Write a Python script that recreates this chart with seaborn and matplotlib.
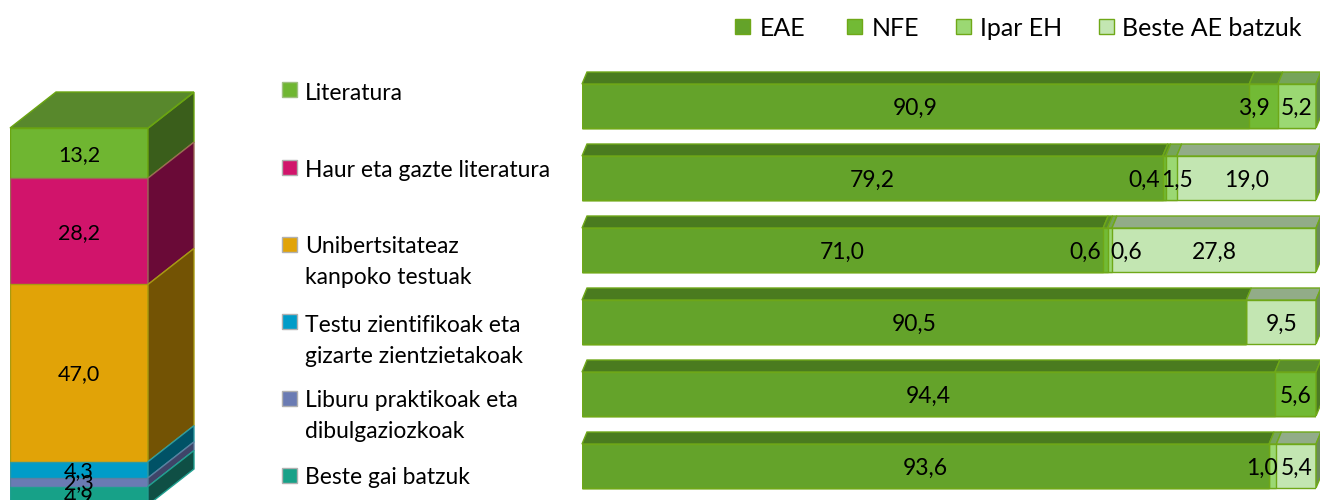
import matplotlib
matplotlib.use("Agg")
import matplotlib.pyplot as plt
from matplotlib.patches import Polygon, Rectangle
import numpy as np
import pandas as pd
import seaborn as sns

sns.set_theme(style="white")
plt.rcParams['font.family'] = ['Lato', 'DejaVu Sans']

W, H = 1320, 500
FS = 16.5

# ---- data ----
genres = ["Literatura", "Haur eta gazte literatura", "Unibertsitateaz\nkanpoko testuak",
          "Testu zientifikoak eta\ngizarte zientzietakoak",
          "Liburu praktikoak eta\ndibulgaziozkoak", "Beste gai batzuk"]
genre_share = [13.2, 28.2, 47.0, 4.3, 2.3, 4.9]
regions = ["EAE", "NFE", "Ipar EH", "Beste AE batzuk"]
eae = [90.9, 79.2, 71.0, 90.5, 94.4, 93.6]
nfe = [3.9, 0.4, 0.6, 0.0, 5.6, 0.0]
ipar = [5.2, 1.5, 0.6, 0.0, 0.0, 1.0]
beste = [0.0, 19.0, 27.8, 9.5, 0.0, 5.4]

# ---- styling ----
genre_front = ["#6FB631", "#D1146B", "#E1A307", "#009CC8", "#6A7BB3", "#17A188"]
genre_side = ["#3A5E1B", "#6A0A37", "#735304", "#005266", "#3F4468", "#0F4F45"]
genre_edge = ["#6AA510", "#9A6A55", "#A89A10", "#2E9AA0", "#5A80A0", "#20A090"]
reg_front = ["#64A32A", "#72BA35", "#9BD873", "#C3E6B2"]
reg_top = ["#4A7B1F", "#5A8E2B", "#76A45A", "#92AC88"]
reg_side = ["#3F6A1A", "#4C7A24", "#5F8A48", "#6B8A5C"]
reg_edge = "#6FA818"


def px_axes(x0, x1, y0, y1):
    """Axes from pixel box (y measured from the top of the figure)."""
    return fig.add_axes([x0 / W, 1 - y1 / H, (x1 - x0) / W, (y1 - y0) / H])


def px_text(x, y, s, **kw):
    kw.setdefault("fontsize", FS)
    kw.setdefault("va", "center")
    kw.setdefault("color", "black")
    fig.text(x / W, 1 - y / H, s, **kw)


def px_square(x, y, size, face, edge):
    fig.add_artist(Rectangle((x / W, 1 - (y + size) / H), size / W, size / H,
                             transform=fig.transFigure, facecolor=face,
                             edgecolor=edge, linewidth=1))


fig = plt.figure(figsize=(W / 100, H / 100), dpi=100)

# ---- left 3D column: cumulative layers painted from the longest down ----
axL = px_axes(10, 148, 128, 505)
dfL = pd.DataFrame({"g": genres, "v": genre_share})
dfL["top"] = dfL["v"][::-1].cumsum()[::-1]
for i, row in dfL.iterrows():
    sns.barplot(x=["a"], y=[row["top"]], color=genre_front[i], saturation=1, width=1,
                edgecolor=genre_edge[i], linewidth=1, ax=axL)
axL.set_xlim(-0.5, 0.5)
axL.set_ylim(0, 100)
axL.axis("off")
fig.canvas.draw()
tops = list(dfL["top"]) + [0]
for i in range(len(genres)):
    y_hi = axL.transData.transform((0, tops[i]))[1]
    y_lo = axL.transData.transform((0, tops[i + 1]))[1]
    xr = axL.transData.transform((0.5, 0))[0]
    fig.add_artist(Polygon([(xr, y_lo), (xr + 46, y_lo + 36), (xr + 46, y_hi + 36), (xr, y_hi)],
                           closed=True, transform=None, facecolor=genre_side[i],
                           edgecolor=genre_edge[i], linewidth=1, zorder=1))
xl = axL.transData.transform((-0.5, 0))[0]
xr = axL.transData.transform((0.5, 0))[0]
yt = axL.transData.transform((0, 100))[1]
fig.add_artist(Polygon([(xl, yt), (xl + 46, yt + 36), (xr + 46, yt + 36), (xr, yt)],
                       closed=True, transform=None, facecolor="#58882C",
                       edgecolor="#6AA510", linewidth=1, zorder=1))
for i, row in dfL.iterrows():
    axL.annotate(f"{row['v']:.1f}".replace(".", ","),
                 (0, row["top"] - row["v"] / 2), xytext=(0, -1),
                 textcoords="offset points", ha="center", va="center",
                 fontsize=FS - 1, color="black", annotation_clip=False)

# ---- genre legend ----
leg_y = [82, 160, 237, 314, 391, 468]
leg_lines = [93, 170, 262, 341, 416, 478]
for i, g in enumerate(genres):
    px_square(282, leg_y[i], 15, genre_front[i], "#A0C080" if i == 0 else "#B0B0B0")
    px_text(305, leg_lines[i], g, linespacing=1.62)

# ---- right 3D bars ----
axR = px_axes(582, 1316, 70, 500)
cat = list(range(len(genres)))
series = [eae, nfe, ipar, beste]
cum = np.cumsum(np.array(series), axis=0)
cum = cum / cum[-1] * 100
for j in range(3, -1, -1):
    sns.barplot(x=cum[j], y=cat, orient="h", order=cat, color=reg_front[j], saturation=1,
                width=0.611, edgecolor=reg_edge, linewidth=1, ax=axR)
axR.set_xlim(0, 100)
axR.set_ylim(5 + 34 / 72, -36 / 72)
axR.axis("off")
fig.canvas.draw()

for r in cat:
    y_top = axR.transData.transform((0, r - 0.3055))[1]
    y_bot = axR.transData.transform((0, r + 0.3055))[1]
    prev = 0.0
    last = 0
    for j in range(4):
        v = series[j][r]
        if v <= 0:
            continue
        x0 = axR.transData.transform((prev, 0))[0]
        x1 = axR.transData.transform((cum[j][r], 0))[0]
        fig.add_artist(Polygon([(x0, y_top), (x0 + 5, y_top + 12), (x1 + 5, y_top + 12), (x1, y_top)],
                               closed=True, transform=None, facecolor=reg_top[j],
                               edgecolor=reg_edge, linewidth=1, zorder=1))
        last = j
        prev = cum[j][r]
    x1 = axR.transData.transform((100, 0))[0]
    fig.add_artist(Polygon([(x1, y_bot), (x1 + 5, y_bot + 12), (x1 + 5, y_top + 12), (x1, y_top)],
                           closed=True, transform=None, facecolor=reg_side[last],
                           edgecolor=reg_edge, linewidth=1, zorder=1))

# value labels: narrow segments have their text pushed sideways (pixels)
shift = {(0, 1): -10, (1, 1): -20, (1, 2): 6, (2, 1): -20, (2, 2): 17, (5, 2): -11}
for r in cat:
    prev = 0.0
    for j in range(4):
        v = series[j][r]
        if v <= 0:
            continue
        mid = (prev + cum[j][r]) / 2
        prev = cum[j][r]
        axR.annotate(f"{v:.1f}".replace(".", ","), (mid, r), xytext=(shift.get((r, j), 0) * 0.72, -2),
                     textcoords="offset points", ha="center", va="center",
                     fontsize=FS, color="black", annotation_clip=False, zorder=10)

# ---- region legend ----
sq_x = [735, 847, 956, 1099]
tx_x = [760, 872, 980, 1122]
for k, name in enumerate(regions):
    px_square(sq_x[k], 19, 15, reg_front[k], reg_edge)
    px_text(tx_x[k], 28, name, fontsize=18)

fig.savefig("out.png", dpi=100)
